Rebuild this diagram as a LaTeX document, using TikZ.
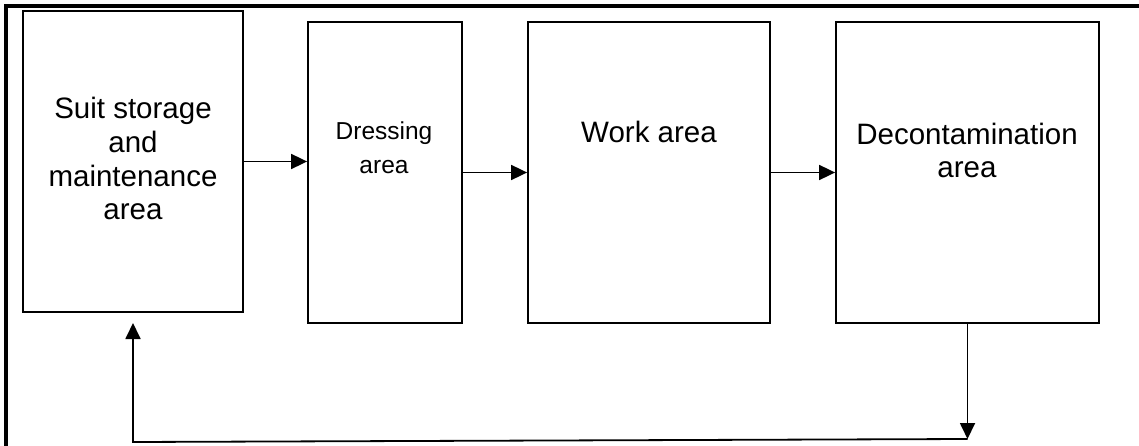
\documentclass[tikz,border=0pt]{standalone}
\usepackage{fontspec}
\setmainfont{Liberation Sans}
\usetikzlibrary{arrows.meta}
\begin{document}
\begin{tikzpicture}[x=1pt,y=-1pt,
  box/.style={draw,line width=1.8pt,inner sep=0pt},
  lbl/.style={anchor=base,inner sep=0pt,font=\fontsize{29.5}{34}\selectfont},
  slbl/.style={anchor=base,inner sep=0pt,font=\fontsize{24.5}{30}\selectfont},
  flow/.style={line width=1.8pt,-{Triangle[length=16pt,width=15pt]}}]
\useasboundingbox (0,0) rectangle (1139,446);
\draw[line width=4pt] (6,446) -- (6,6) -- (1139,6);
% boxes
\node[box,minimum width=220pt,minimum height=301pt] (b1) at (133,161.5) {};
\node[box,minimum width=154pt,minimum height=301pt] (b2) at (385,172.5) {};
\node[box,minimum width=242pt,minimum height=301pt] (b3) at (649,172.5) {};
\node[box,minimum width=263pt,minimum height=301pt] (b4) at (967.5,172.5) {};
% texts
\node[lbl] (t1a) at (133,119) {Suit storage};
\node[lbl] (t1b) at (133,153) {and};
\node[lbl] (t1c) at (133,187) {maintenance};
\node[lbl] (t1d) at (133,220) {area};
\node[slbl] (t2a) at (384,140) {Dressing};
\node[slbl] (t2b) at (384,174) {area};
\node[lbl] (t3a) at (649,143) {Work area};
\node[lbl] (t4a) at (967,145) {Decontamination};
\node[lbl] (t4b) at (967,178) {area};
% connectors
\draw[flow] (b1.east) -- (b2.west |- b1.east);
\draw[flow] (b2.east) -- (b3.west);
\draw[flow] (b3.east) -- (b4.west);
\coordinate (c1) at (967.5,439);
\coordinate (c2) at (133,442);
\coordinate (c3) at (133,323);
\draw[flow] (b4.south) -- (c1);
\draw[flow] (c1) -- (c2) -- (c3);
\end{tikzpicture}
\end{document}
